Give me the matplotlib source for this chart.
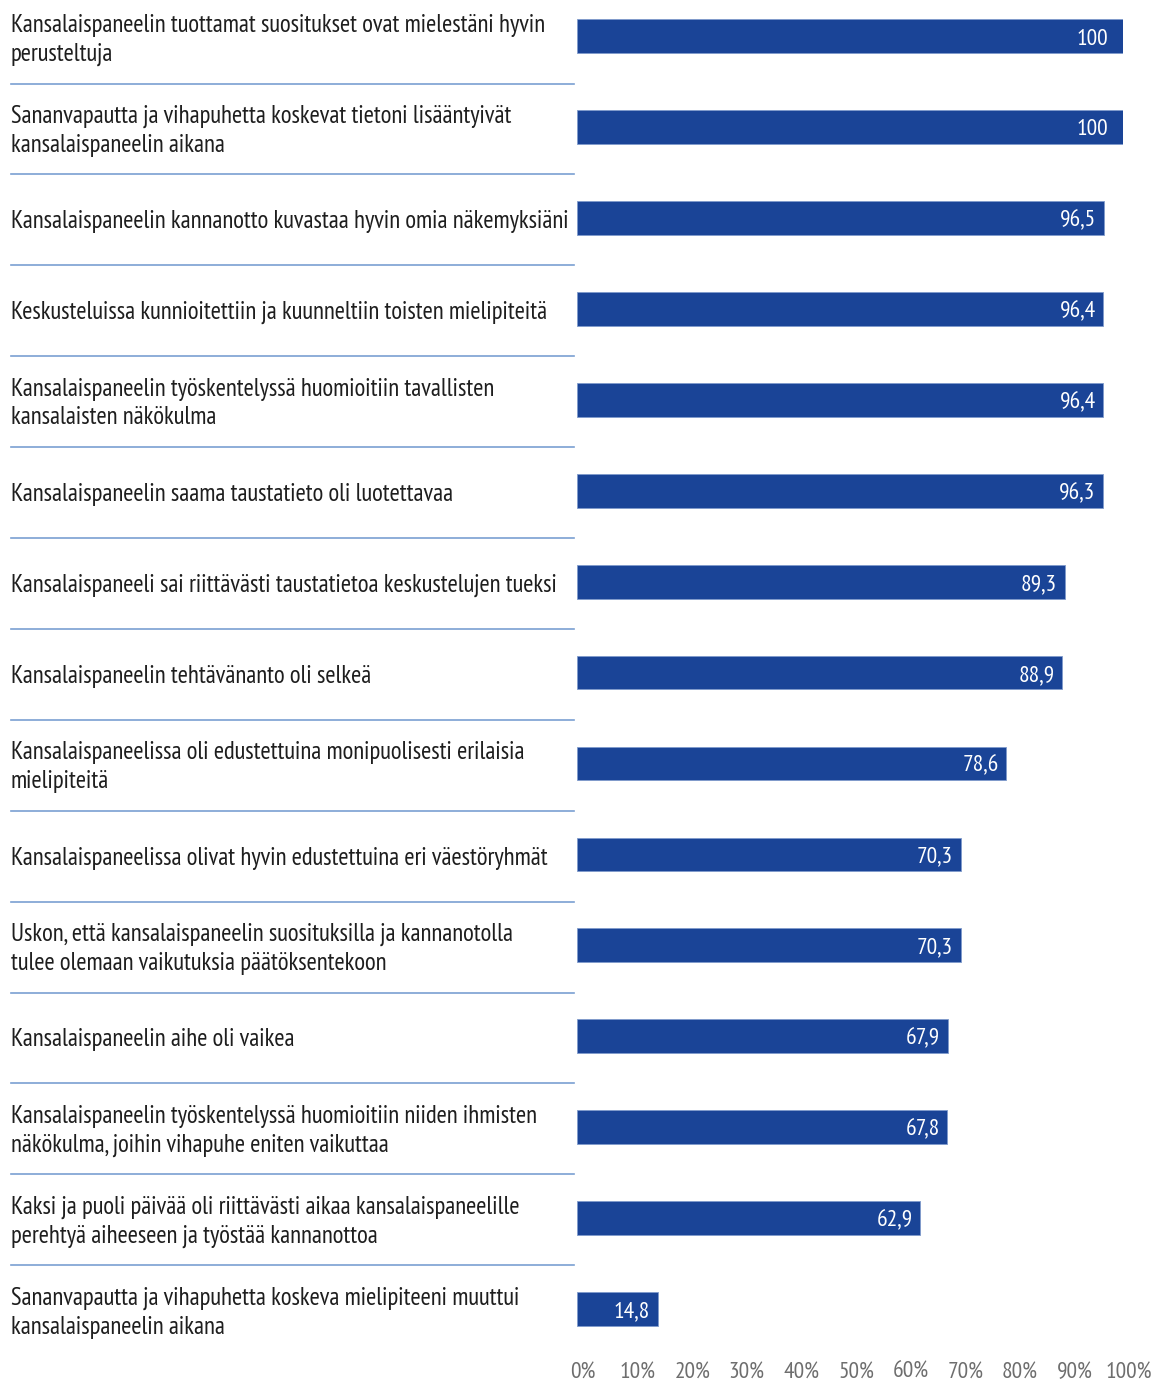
import matplotlib
matplotlib.use('Agg')
import matplotlib.pyplot as plt
import matplotlib.transforms as mtransforms
from matplotlib import font_manager

# condensed font close to the original (Myriad Condensed style)
installed = set(f.name for f in font_manager.fontManager.ttflist)
candidates = ['Myriad Pro Cond', 'PT Sans Narrow', 'Fira Sans Condensed', 'Roboto Condensed',
              'Open Sans Condensed', 'Archivo Narrow', 'Liberation Sans Narrow', 'DejaVu Sans']
font = [c for c in candidates if c in installed][0]
plt.rcParams['font.family'] = [font, 'DejaVu Sans']

labels = [
    'Kansalaispaneelin tuottamat suositukset ovat mielestäni hyvin\nperusteltuja',
    'Sananvapautta ja vihapuhetta koskevat tietoni lisääntyivät\nkansalaispaneelin aikana',
    'Kansalaispaneelin kannanotto kuvastaa hyvin omia näkemyksiäni',
    'Keskusteluissa kunnioitettiin ja kuunneltiin toisten mielipiteitä',
    'Kansalaispaneelin työskentelyssä huomioitiin tavallisten\nkansalaisten näkökulma',
    'Kansalaispaneelin saama taustatieto oli luotettavaa',
    'Kansalaispaneeli sai riittävästi taustatietoa keskustelujen tueksi',
    'Kansalaispaneelin tehtävänanto oli selkeä',
    'Kansalaispaneelissa oli edustettuina monipuolisesti erilaisia\nmielipiteitä',
    'Kansalaispaneelissa olivat hyvin edustettuina eri väestöryhmät',
    'Uskon, että kansalaispaneelin suosituksilla ja kannanotolla\ntulee olemaan vaikutuksia päätöksentekoon',
    'Kansalaispaneelin aihe oli vaikea',
    'Kansalaispaneelin työskentelyssä huomioitiin niiden ihmisten\nnäkökulma, joihin vihapuhe eniten vaikuttaa',
    'Kaksi ja puoli päivää oli riittävästi aikaa kansalaispaneelille\nperehtyä aiheeseen ja työstää kannanottoa',
    'Sananvapautta ja vihapuhetta koskeva mielipiteeni muuttui\nkansalaispaneelin aikana',
]
values = [100, 100, 96.5, 96.4, 96.4, 96.3, 89.3, 88.9, 78.6, 70.3, 70.3, 67.9, 67.8, 62.9, 14.8]
ticks = [0, 10, 20, 30, 40, 50, 60, 70, 80, 90, 100]

W, H = 1157, 1384
fig = plt.figure(figsize=(W / 100, H / 100), dpi=100)
renderer = fig.canvas.get_renderer()

# pick a font size so the widest one-line label is ~554 px like the original
probe = fig.text(0, 0, labels[2], fontsize=20)
w = probe.get_window_extent(renderer).width
probe.remove()
fs = min(20 * 554 / w, 20)

bottom_px = 1355
ax = fig.add_axes([577 / W, 1 - bottom_px / H, (1123 - 577) / W, bottom_px / H])

pos = list(range(len(values)))
ax.barh(pos, values, height=0.37, color='#1a4497', edgecolor='#7f9bcc', linewidth=0.6)
ax.set_xlim(0, 100)
ax.set_ylim((bottom_px - 36.3) / 90.9, -36.3 / 90.9)

for i, v in enumerate(values):
    txt = ('%g' % v).replace('.', ',')
    inset = 2.8 if v >= 100 else 1.4
    ax.text(v - inset, i + 0.03, txt, ha='right', va='center', color='white', fontsize=fs * 0.95)

trans = mtransforms.blended_transform_factory(fig.transFigure, ax.transData)
for i, lab in enumerate(labels):
    ax.text(11 / W, i + 0.04, lab, transform=trans, ha='left', va='center',
            fontsize=fs, color='#1e1e1e', linespacing=1.32, clip_on=False)
for i in range(len(values) - 1):
    ax.plot([11 / W, 574 / W], [i + 0.52, i + 0.52], transform=trans,
            color='#7aa0d2', linewidth=1.2, clip_on=False)

ax.set_xticks(ticks)
ax.set_xticklabels(['%d%%' % t for t in ticks])
ax.tick_params(axis='x', length=0, pad=5, labelsize=fs * 0.95, labelcolor='#6e6e6e')
ax.set_yticks([])
off = mtransforms.ScaledTranslation(6 / 100, 0, fig.dpi_scale_trans)
for t in ax.get_xticklabels():
    t.set_transform(t.get_transform() + off)
for s in ax.spines.values():
    s.set_visible(False)

fig.savefig('out.png', dpi=100)
